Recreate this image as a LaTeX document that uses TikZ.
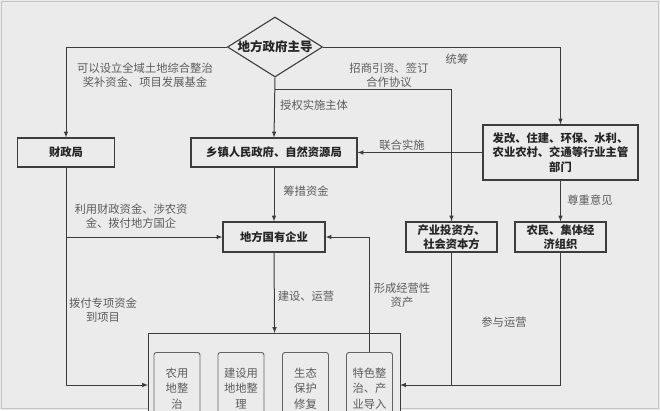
\documentclass[tikz,border=0pt]{standalone}
\usepackage{fontspec}
\setmainfont{Noto Sans CJK SC}
\usepackage{tikz}
\usetikzlibrary{arrows}
\usetikzlibrary{shapes.geometric}
\definecolor{bgGray}{HTML}{EBEBEB}
\definecolor{frameGray}{HTML}{C4C4C4}
\definecolor{lineGray}{HTML}{3C3C3C}
\definecolor{textGray}{HTML}{5C5C5C}
\tikzset{
  flow box/.style={draw=lineGray, line width=1.1pt, fill=bgGray, align=center,
      inner sep=0pt, text=black!85, font=\bfseries\fontsize{11.3}{14.5}\selectfont},
  part box/.style={draw=lineGray!80, line width=0.9pt, rounded corners=2.5pt,
      fill=bgGray, align=center, inner sep=0pt, text=textGray,
      minimum width=46pt, minimum height=72pt, anchor=north,
      font=\fontsize{11.3}{15.5}\selectfont},
  flow label/.style={text=textGray, align=center, inner sep=0pt,
      font=\fontsize{11.3}{14.5}\selectfont},
  flow line/.style={draw=lineGray, line width=1pt},
  flow arrow/.style={flow line, -latex},
}

\begin{document}
\begin{tikzpicture}[x=1pt, y=-1pt]
    \clip (0,0) rectangle (660,410);
    \fill [bgGray] (0,0) rectangle (660,410);
    \draw [frameGray, line width=1.2pt] (1.5,1.5) rectangle (658.5,408.5);

    % top
    \node [flow box, shape=diamond, aspect=1.65, minimum width=95pt, minimum height=60pt,
      font=\bfseries\fontsize{12.5}{15}\selectfont] (gov) at (275,47) {地方政府主导};

    % second row
    \node [flow box, minimum width=97pt, minimum height=29pt] (finance) at (66,152.5) {财政局};
    \node [flow box, minimum width=166pt, minimum height=29pt] (town) at (274,152.5) {乡镇人民政府、自然资源局};
    \node [flow box, minimum width=155pt, minimum height=55pt] (depts) at (560.5,152.5)
      {发改、住建、环保、水利、\\农业农村、交通等行业主管\\部门};

    % third row
    \node [flow box, minimum width=102pt, minimum height=30pt] (soe) at (274,237) {地方国有企业};
    \node [flow box, minimum width=91pt, minimum height=30pt] (investor) at (451.5,237) {产业投资方、\\社会资本方};
    \node [flow box, minimum width=91pt, minimum height=30pt] (farmer) at (560.5,237) {农民、集体经\\济组织};

    % project box
    \node [flow box, anchor=north west, minimum width=252pt, minimum height=120pt] (works) at (148,333) {};
    \node [part box] (farmland) at (177,352) {农用\\地整\\治};
    \node [part box] (buildland) at (241,352) {建设用\\地地整\\理};
    \node [part box] (ecology) at (305.5,352) {生态\\保护\\修复};
    \node [part box] (feature) at (369.5,352) {特色整\\治、产\\业导入};

    \coordinate (split) at (275,89);
    \coordinate (fundsplit) at (66,237);
    \coordinate (inLeft) at (148,385);
    \coordinate (inRight) at (400,385);

    % connectors
    \draw [flow arrow] (gov.west) -| (finance.north);
    \draw [flow arrow] (gov.east) -| (depts.north);
    \draw [flow arrow] (gov.south) -- (town.north);
    \draw [flow arrow] (split) -| (investor.north);
    \draw [flow arrow] (depts.west) -- (town.east);
    \draw [flow arrow] (depts.south) -- (farmer.north);
    \draw [flow arrow] (town.south) -- (soe.north);
    \draw [flow arrow] (finance.south) |- (inLeft);
    \draw [flow arrow] (fundsplit) -- (soe.west);
    \draw [flow arrow] (soe.south) -- (works.north);
    \draw [flow arrow] (feature.north) |- (soe.east);
    \draw [flow line] (investor.south) -- (investor.south |- inRight);
    \draw [flow arrow] (farmer.south) |- (inRight);

    % labels
    \node [flow label] at (145,75) {可以设立全域土地综合整治\\奖补资金、项目发展基金};
    \node [flow label] at (457,59) {统筹};
    \node [flow label] at (389,75) {招商引资、签订\\合作协议};
    \node [flow label, anchor=west] at (280,105) {授权实施主体};
    \node [flow label] at (402,145) {联合实施};
    \node [flow label] at (306,191) {筹措资金};
    \node [flow label] at (590,200) {尊重意见};
    \node [flow label] at (131,216) {利用财政资金、涉农资\\金、拨付地方国企};
    \node [flow label] at (103,310) {拨付专项资金\\到项目};
    \node [flow label] at (306,296) {建设、运营};
    \node [flow label] at (402,295) {形成经营性\\资产};
    \node [flow label] at (504,322) {参与运营};
  \end{tikzpicture}
\end{document}
